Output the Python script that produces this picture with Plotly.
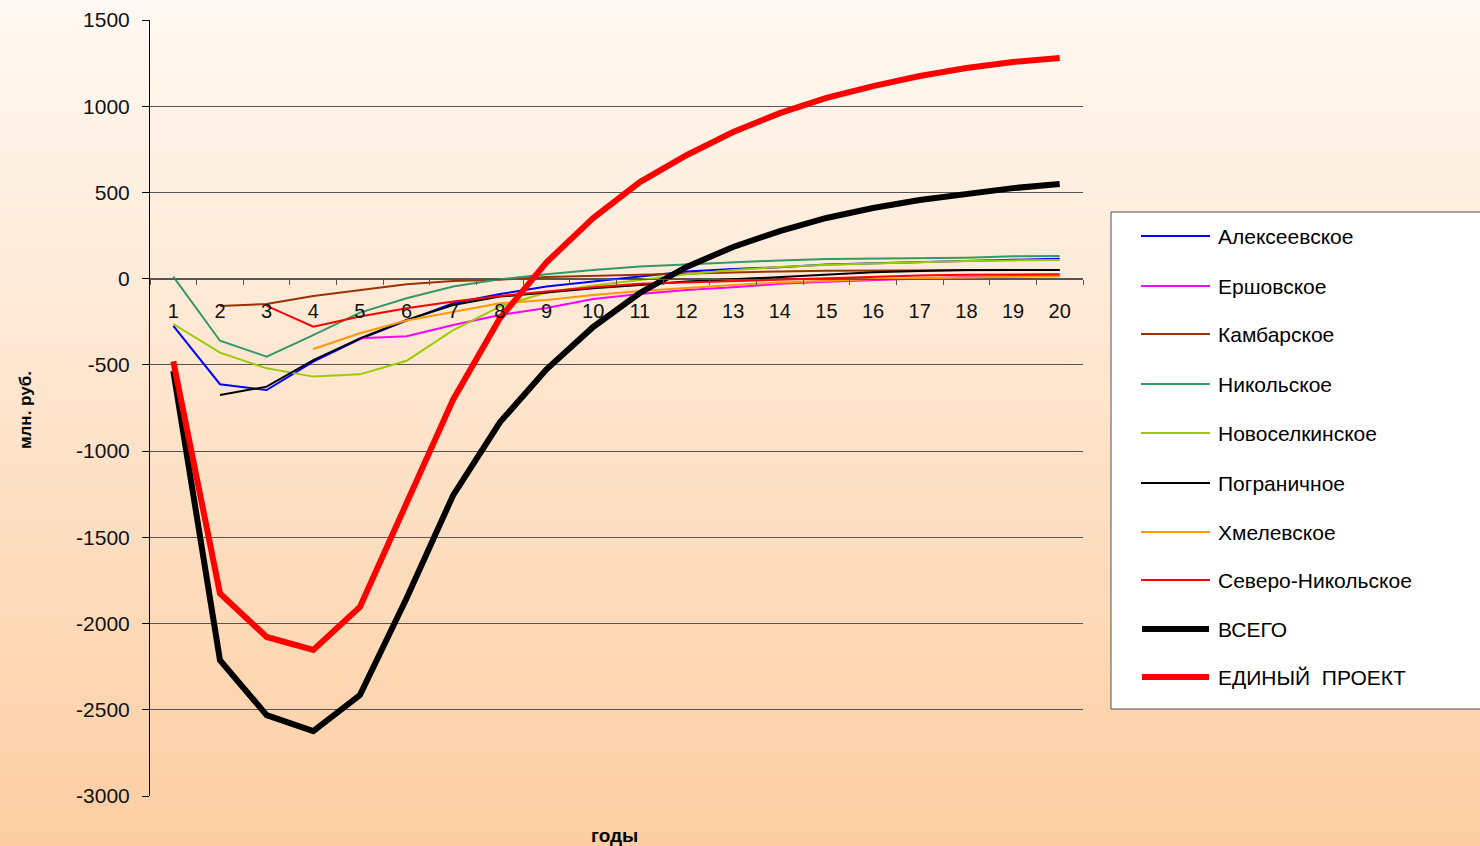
import base64
import struct
import zlib

import plotly.graph_objects as go

# ---- data: cash flow by field, million rubles, years 1..20 ----
years = [str(y) for y in range(1, 21)]

alekseevskoe = [-274, -612, -646, -481, -350, -243, -143, -89, -46, -17,
                16, 41, 56, 66, 82, 90, 97, 103, 110, 115]
ershovskoe = [None, None, None, None, -346, -334, -269, -211, -170, -118,
              -89, -66, -50, -30, -18, -8, 2, 10, 15, 18]
kambarskoe = [None, -158, -147, -100, -66, -33, -13, -6, 10, 17,
              25, 31, 37, 42, 46, 48, 50, 50, 50, 50]
nikolskoe = [12, -360, -452, -327, -197, -114, -46, -4, 25, 50,
             70, 83, 95, 106, 114, 117, 118, 122, 130, 132]
novoselkinskoe = [-263, -429, -520, -568, -555, -476, -298, -162, -80, -40,
                  -8, 25, 50, 68, 80, 89, 97, 103, 106, 108]
pogranichnoe = [None, -675, -626, -472, -346, -240, -153, -104, -78, -56,
                -37, -17, -4, 10, 25, 37, 45, 50, 50, 50]
khmelevskoe = [None, None, None, -408, -317, -243, -191, -143, -124, -95,
               -71, -52, -37, -22, -12, -4, 3, 8, 12, 14]
severo_nikolskoe = [None, None, -158, -278, -220, -172, -133, -100, -75, -50,
                    -30, -22, -12, -3, 5, 12, 18, 22, 24, 25]
vsego = [-535, -2212, -2531, -2624, -2415, -1853, -1255, -833, -526, -280,
         -83, 68, 184, 276, 352, 410, 456, 490, 525, 549]
edinyi_proekt = [-480, -1825, -2078, -2153, -1904, -1300, -700, -230, 95, 351,
                 560, 716, 850, 960, 1048, 1117, 1175, 1222, 1257, 1280]

series_names = ["Алексеевское", "Ершовское", "Камбарское", "Никольское",
                "Новоселкинское", "Пограничное", "Хмелевское",
                "Северо-Никольское", "ВСЕГО", "ЕДИНЫЙ  ПРОЕКТ"]
series_values = [alekseevskoe, ershovskoe, kambarskoe, nikolskoe,
                 novoselkinskoe, pogranichnoe, khmelevskoe,
                 severo_nikolskoe, vsego, edinyi_proekt]
series_colors = ["#0000FF", "#FF00FF", "#993300", "#339966", "#99CC00",
                 "#000000", "#FF9900", "#FF0000", "#000000", "#FF0000"]
series_widths = [2, 2, 2, 2, 2, 2, 2, 2, 6, 6]

y_ticks = [1500, 1000, 500, 0, -500, -1000, -1500, -2000, -2500, -3000]
y_ticktext = [str(v) for v in y_ticks]

# ---- figure geometry ----
W, H = 1480, 846
ML, MR, MT, MB = 150, 397, 20, 50
PW, PH = W - ML - MR, H - MT - MB
FONT = "Liberation Sans, Arial, sans-serif"


def px_x(px):
    return (px - ML) / PW


def px_y(py):
    return (H - MB - py) / PH


def gradient_png(height, top, bottom):
    raw = b""
    for i in range(height):
        t = i / (height - 1)
        c = bytes(round(top[k] + (bottom[k] - top[k]) * t) for k in range(3))
        raw += b"\x00" + c + c
    def chunk(tag, data):
        return (struct.pack(">I", len(data)) + tag + data
                + struct.pack(">I", zlib.crc32(tag + data) & 0xFFFFFFFF))
    png = b"\x89PNG\r\n\x1a\n"
    png += chunk(b"IHDR", struct.pack(">IIBBBBB", 2, height, 8, 2, 0, 0, 0))
    png += chunk(b"IDAT", zlib.compress(raw))
    png += chunk(b"IEND", b"")
    return "data:image/png;base64," + base64.b64encode(png).decode()


fig = go.Figure()

for name, vals, col, w in zip(series_names, series_values, series_colors, series_widths):
    fig.add_trace(go.Scatter(
        x=years, y=vals, name=name, mode="lines",
        line=dict(color=col, width=w), connectgaps=False, showlegend=False,
    ))

y_min, y_max = -3000, 1500
zero_pos = (0 - y_min) / (y_max - y_min)

fig.update_layout(
    width=W, height=H,
    margin=dict(l=ML, r=MR, t=MT, b=MB, autoexpand=False),
    paper_bgcolor="rgba(0,0,0,0)",
    plot_bgcolor="rgba(0,0,0,0)",
    font=dict(family=FONT, color="#000000"),
    xaxis=dict(
        type="category", range=[-0.5, 19.5],
        anchor="free", position=zero_pos, automargin=False,
        showline=True, linecolor="#555555", linewidth=1,
        ticks="outside", tickson="boundaries", ticklen=5,
        tickcolor="#555555", tickwidth=1,
        showgrid=False, zeroline=False,
        tickfont=dict(size=20, family=FONT, color="#111111"),
        ticklabelstandoff=14,
    ),
    yaxis=dict(
        range=[y_min, y_max], tickvals=y_ticks, ticktext=y_ticktext,
        automargin=False,
        showline=True, linecolor="#000000", linewidth=1,
        ticks="outside", ticklen=7, tickcolor="#000000",
        showgrid=True, gridcolor="#555555", gridwidth=1,
        zeroline=False,
        tickfont=dict(size=21, family=FONT, color="#111111"),
        ticklabelstandoff=8,
    ),
    images=[dict(
        source=gradient_png(H, (255, 249, 243), (252, 206, 162)),
        xref="paper", yref="paper",
        x=px_x(0), y=px_y(0), sizex=W / PW, sizey=H / PH,
        xanchor="left", yanchor="top", sizing="stretch", layer="below",
    )],
)

annotations = [
    dict(text="<b>млн. руб.</b>", x=px_x(25), y=px_y(410), xref="paper", yref="paper",
         xanchor="center", yanchor="middle",
         textangle=-90, showarrow=False, font=dict(size=17, family=FONT)),
    dict(text="<b>годы</b>", x=px_x(614), y=px_y(835), xref="paper", yref="paper",
         xanchor="center", yanchor="middle",
         showarrow=False, font=dict(size=19, family=FONT)),
]

shapes = [dict(type="rect", xref="paper", yref="paper",
               x0=px_x(1111), x1=px_x(1500), y0=px_y(709), y1=px_y(212),
               fillcolor="#FFFFFF", line=dict(color="#505050", width=1), layer="above")]

legend_rows = [236, 286, 334, 384, 433, 483, 532, 580, 629, 677]
for name, col, w, ry in zip(series_names, series_colors, series_widths, legend_rows):
    shapes.append(dict(type="line", xref="paper", yref="paper",
                       x0=px_x(1141 if w < 4 else 1142), x1=px_x(1210 if w < 4 else 1209),
                       y0=px_y(ry), y1=px_y(ry),
                       line=dict(color=col, width=w), layer="above"))
    annotations.append(dict(text=name, x=px_x(1216), y=px_y(ry), xref="paper", yref="paper",
                            xanchor="left", yanchor="middle", showarrow=False,
                            font=dict(size=21, family=FONT, color="#000000")))

fig.update_layout(annotations=annotations, shapes=shapes)

fig.write_html("out.html")
